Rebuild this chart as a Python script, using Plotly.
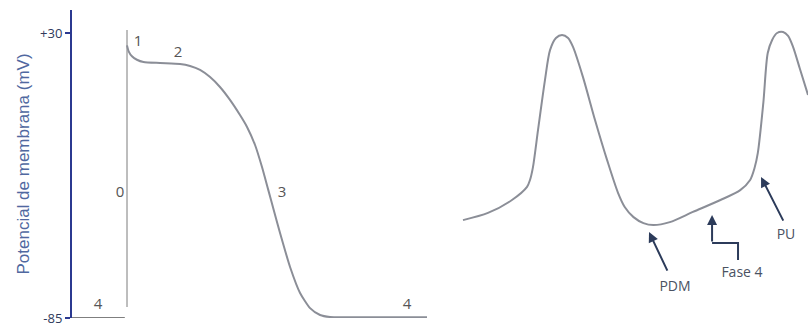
import plotly.graph_objects as go

# ---- Data (time in ms, membrane potential in mV) ----
# Ventricular action potential (left panel)
vent_t = [0, 1.5, 4.5, 9, 15, 30, 48.2, 57.3, 66.4, 75.5, 84.5, 93.6, 102.7, 109.1, 116.4,
          122.7, 128.2, 133.6, 139.1, 148.2, 157.3, 166.4, 175.5, 184.5, 198.2, 272.7]
vent_mv = [25.0, 22.6, 20.6, 19.2, 18.3, 17.9, 17.5, 16.7, 15.1, 12.2, 8.2, 3.0, -3.1, -7.9,
           -15.2, -24.1, -33.0, -41.8, -50.7, -64.4, -74.9, -81.0, -83.8, -84.6, -84.7, -84.7]
phase0_t = [0, 0]
phase0_mv = [-80.6, 31.2]
baseline_t = [-50, -2]
baseline_mv = [-85, -85]

phase_labels = ["1", "2", "0", "3", "4", "4"]
phase_label_t = [10, 46.4, -6.4, 140.9, -26.4, 254.5]
phase_label_mv = [26.4, 21.9, -34.6, -34.6, -79.8, -79.8]

# Pacemaker (nodal) action potentials (right panel)
node_t = [0, 22.7, 44.5, 58.2, 60.9, 63.6, 68.2, 74.5, 79.1, 84.5, 90, 95.5, 100, 109, 120,
          131, 141, 147, 155, 164, 173, 188, 209, 234, 252, 261, 265, 268, 273, 277, 281,
          285.5, 291, 295.5, 300, 306, 313.6]
node_mv = [-45.5, -42.6, -37.4, -32.1, -29.3, -24.1, -9.1, 11.0, 23.1, 28.0, 29.2, 28.0, 24.4,
           12.3, -5.1, -21.3, -34.6, -40.2, -44.3, -46.7, -47.5, -46.3, -42.2, -37.4, -33.4,
           -29.3, -24.5, -18.4, 1.8, 21.9, 27.2, 30.0, 30.4, 28.8, 24.4, 15.9, 5.0]

# Annotated points: tip (t, mV) and tail (t, mV)
arrow_names = ["PDM", "PU"]
arrow_tip_t = [169.1, 270.9]
arrow_tip_mv = [-50.3, -28.1]
arrow_tail_t = [186.4, 291.8]
arrow_tail_mv = [-66.5, -46.3]
arrow_label_t = [192.7, 293.6]
arrow_label_mv = [-72.5, -51.9]

fase4_t = [250, 250, 226.4]
fase4_mv = [-61.6, -54.7, -54.7]
fase4_tip = (226.4, -43.4)
fase4_label = ("Fase 4", 253.6, -66.9)

y_ticks = [-85, 30]
y_ticktext = ["-85", "+30"]

# ---- Styling ----
curve_color = "#8b8e97"
arrow_color = "#2c3b5a"
label_color = "#4a5262"
axis_blue = "#2b3990"

fig = go.Figure()

fig.add_trace(go.Scatter(x=phase0_t, y=phase0_mv, mode="lines",
                         line=dict(color="#9a9a9a", width=1.3), xaxis="x", yaxis="y"))
fig.add_trace(go.Scatter(x=baseline_t, y=baseline_mv, mode="lines",
                         line=dict(color="#555555", width=1.5), xaxis="x", yaxis="y",
                         cliponaxis=False))
fig.add_trace(go.Scatter(x=vent_t, y=vent_mv, mode="lines",
                         line=dict(color=curve_color, width=2, shape="spline", smoothing=0.6),
                         xaxis="x", yaxis="y"))
fig.add_trace(go.Scatter(x=phase_label_t, y=phase_label_mv, mode="text", text=phase_labels,
                         textfont=dict(family="Open Sans", size=15, color="#555555"),
                         xaxis="x", yaxis="y", cliponaxis=False))

fig.add_trace(go.Scatter(x=node_t, y=node_mv, mode="lines",
                         line=dict(color=curve_color, width=2, shape="spline", smoothing=0.8),
                         xaxis="x2", yaxis="y"))
fig.add_trace(go.Scatter(x=fase4_t, y=fase4_mv, mode="lines",
                         line=dict(color=arrow_color, width=2), xaxis="x2", yaxis="y"))
fig.add_trace(go.Scatter(x=arrow_label_t + [fase4_label[1]],
                         y=arrow_label_mv + [fase4_label[2]],
                         mode="text", text=arrow_names + [fase4_label[0]],
                         textfont=dict(family="Open Sans", size=14, color=label_color),
                         xaxis="x2", yaxis="y", cliponaxis=False))

annotations = []
for tt, tm, at, am in zip(arrow_tip_t, arrow_tip_mv, arrow_tail_t, arrow_tail_mv):
    annotations.append(dict(x=tt, y=tm, ax=at, ay=am, xref="x2", yref="y",
                            axref="x2", ayref="y", text="", showarrow=True,
                            arrowhead=2, arrowsize=1, arrowwidth=2, arrowcolor=arrow_color))
annotations.append(dict(x=fase4_tip[0], y=fase4_tip[1], ax=fase4_t[-1], ay=fase4_mv[-1],
                        xref="x2", yref="y", axref="x2", ayref="y", text="", showarrow=True,
                        arrowhead=2, arrowsize=1, arrowwidth=2, arrowcolor=arrow_color))

fig.update_layout(
    width=808, height=326,
    margin=dict(l=0, r=0, t=0, b=0),
    paper_bgcolor="white", plot_bgcolor="white",
    showlegend=False,
    annotations=annotations,
    xaxis=dict(domain=[72 / 808, 440 / 808], range=[-50, 284.5], visible=False),
    xaxis2=dict(domain=[455 / 808, 1], range=[-7.27, 313.6], visible=False, anchor="y"),
    yaxis=dict(domain=[8 / 326, 316 / 326], range=[-85, 39.28], automargin=False,
               showline=True, linecolor=axis_blue, linewidth=2,
               showgrid=False, zeroline=False,
               tickvals=y_ticks, ticktext=y_ticktext, ticklabeloverflow="allow",
               ticks="outside", ticklen=5, tickwidth=1.5, tickcolor=axis_blue,
               tickfont=dict(family="Open Sans", size=13, color="#2f3a5c"),
               title=dict(text="Potencial de membrana (mV)", standoff=6,
                          font=dict(family="Liberation Sans", size=17, color="#5068a0"))),
)

fig.write_html("out.html", config={"displayModeBar": False},
               post_script="document.body.style.margin='0';document.body.style.overflow='hidden';")
